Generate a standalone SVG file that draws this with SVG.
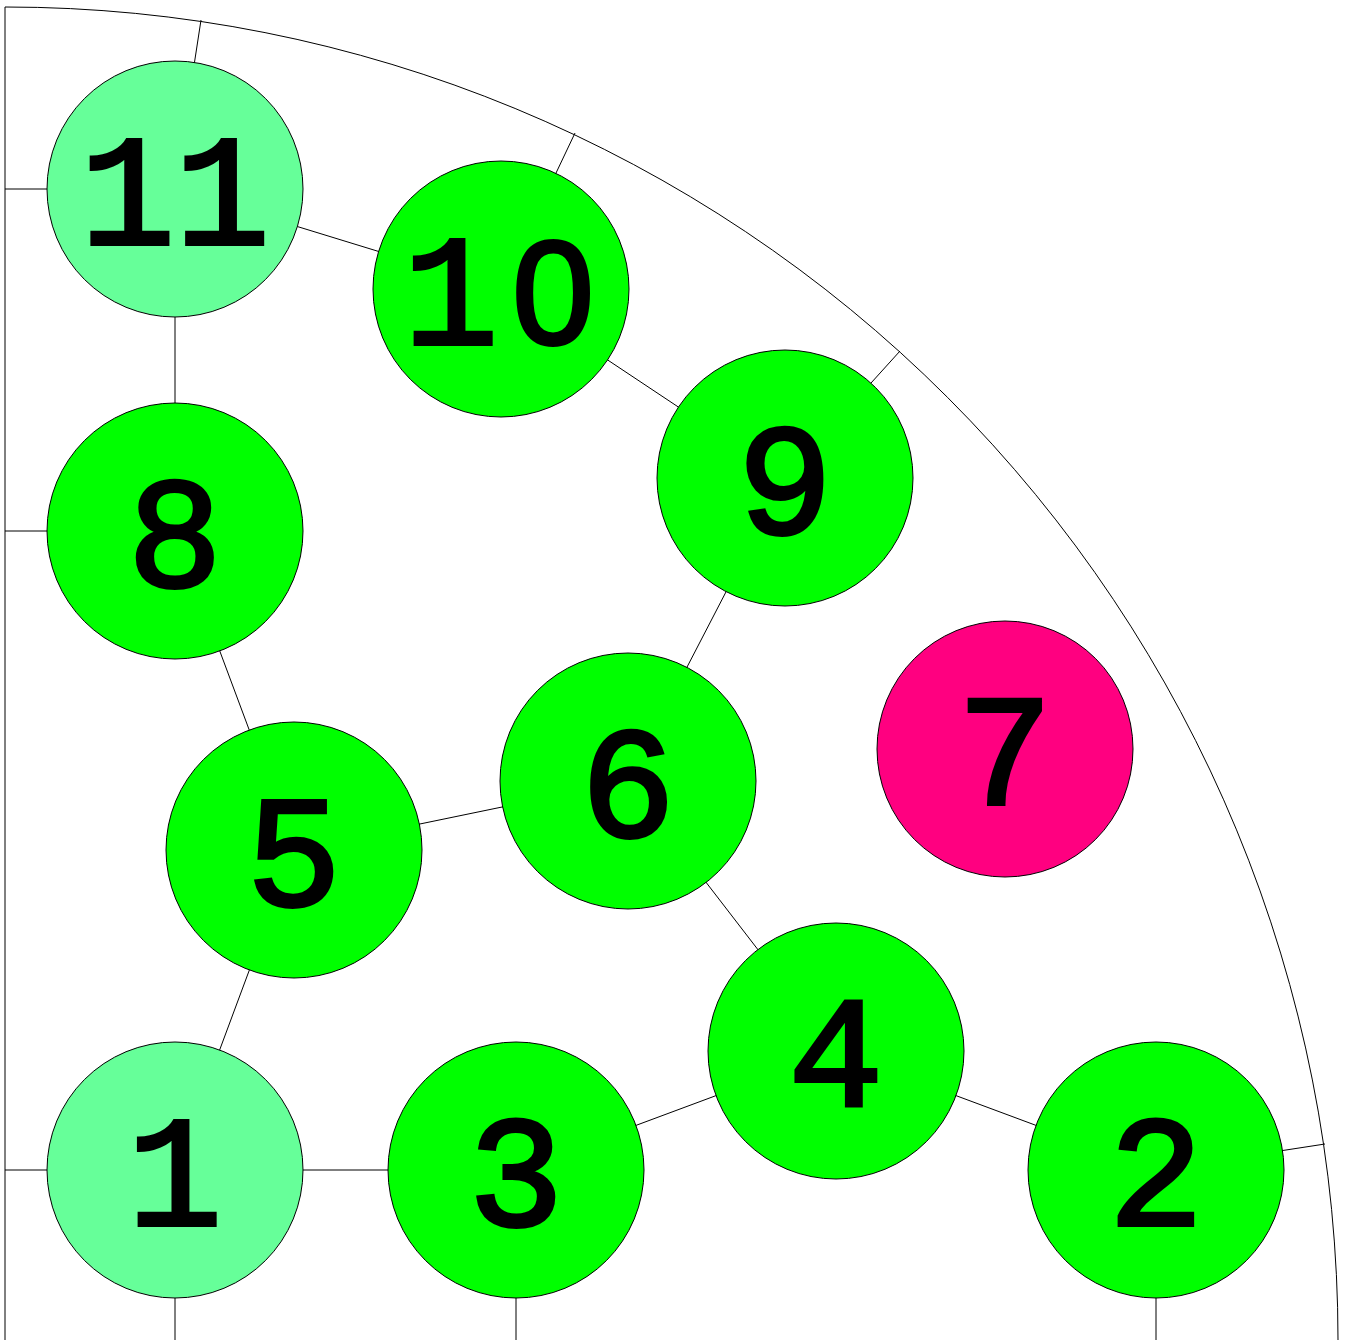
<svg xmlns="http://www.w3.org/2000/svg" width="1345" height="1340" viewBox="0 0 1345 1340">
<style>
.e{stroke:#000;stroke-width:1;fill:none}
.n{stroke:#000;stroke-width:1}
.g{fill:#00ff00}
.l{fill:#66ff99}
.m{fill:#ff0080}
text{font-family:"Liberation Mono","Courier New",monospace;font-weight:normal;font-size:158px;text-anchor:middle;fill:#000;stroke:#000;stroke-width:4;stroke-linejoin:miter}
.z{font-family:"Liberation Sans",Arial,sans-serif;font-size:146px}
</style>
<rect width="1345" height="1340" fill="#fff"/>
<g id="connectors" class="e">
<path d="M5,1340 L5,7 A1333,1333 0 0 1 1338,1340"/>
<line x1="5" y1="189" x2="175" y2="189"/>
<line x1="5" y1="531" x2="175" y2="531"/>
<line x1="5" y1="1170" x2="175" y2="1170"/>
<line x1="175" y1="1170" x2="175" y2="1340"/>
<line x1="516" y1="1170" x2="516" y2="1340"/>
<line x1="1156" y1="1170" x2="1156" y2="1340"/>
<line x1="1156" y1="1170" x2="1325" y2="1144"/>
<line x1="785" y1="478" x2="900" y2="351"/>
<line x1="501" y1="289" x2="575" y2="133"/>
<line x1="175" y1="189" x2="201" y2="20"/>
<line x1="175" y1="189" x2="501" y2="289"/>
<line x1="175" y1="189" x2="175" y2="531"/>
<line x1="501" y1="289" x2="785" y2="478"/>
<line x1="785" y1="478" x2="628" y2="781"/>
<line x1="175" y1="531" x2="294" y2="850"/>
<line x1="294" y1="850" x2="628" y2="781"/>
<line x1="294" y1="850" x2="175" y2="1170"/>
<line x1="628" y1="781" x2="836" y2="1051"/>
<line x1="175" y1="1170" x2="516" y2="1170"/>
<line x1="516" y1="1170" x2="836" y2="1051"/>
<line x1="836" y1="1051" x2="1156" y2="1170"/>
</g>
<g id="n1"><circle class="n l" cx="175" cy="1170" r="128"/><text x="175" y="1225">1</text></g>
<g id="n2"><circle class="n g" cx="1156" cy="1170" r="128"/><text x="1156" y="1225">2</text></g>
<g id="n3"><circle class="n g" cx="516" cy="1170" r="128"/><text x="516" y="1225">3</text></g>
<g id="n4"><circle class="n g" cx="836" cy="1051" r="128"/><text x="836" y="1106">4</text></g>
<g id="n5"><circle class="n g" cx="294" cy="850" r="128"/><text x="294" y="905">5</text></g>
<g id="n6"><circle class="n g" cx="628" cy="781" r="128"/><text x="628" y="836">6</text></g>
<g id="n7"><circle class="n m" cx="1005" cy="749" r="128"/><text x="1005" y="804">7</text></g>
<g id="n8"><circle class="n g" cx="175" cy="531" r="128"/><text x="175" y="586">8</text></g>
<g id="n9"><circle class="n g" cx="785" cy="478" r="128"/><text x="785" y="533">9</text></g>
<g id="n10"><circle class="n g" cx="501" cy="289" r="128"/><text y="344"><tspan x="451">1</tspan><tspan class="z" x="553">0</tspan></text></g>
<g id="n11"><circle class="n l" cx="175" cy="189" r="128"/><text x="175" y="244">11</text></g>
</svg>
